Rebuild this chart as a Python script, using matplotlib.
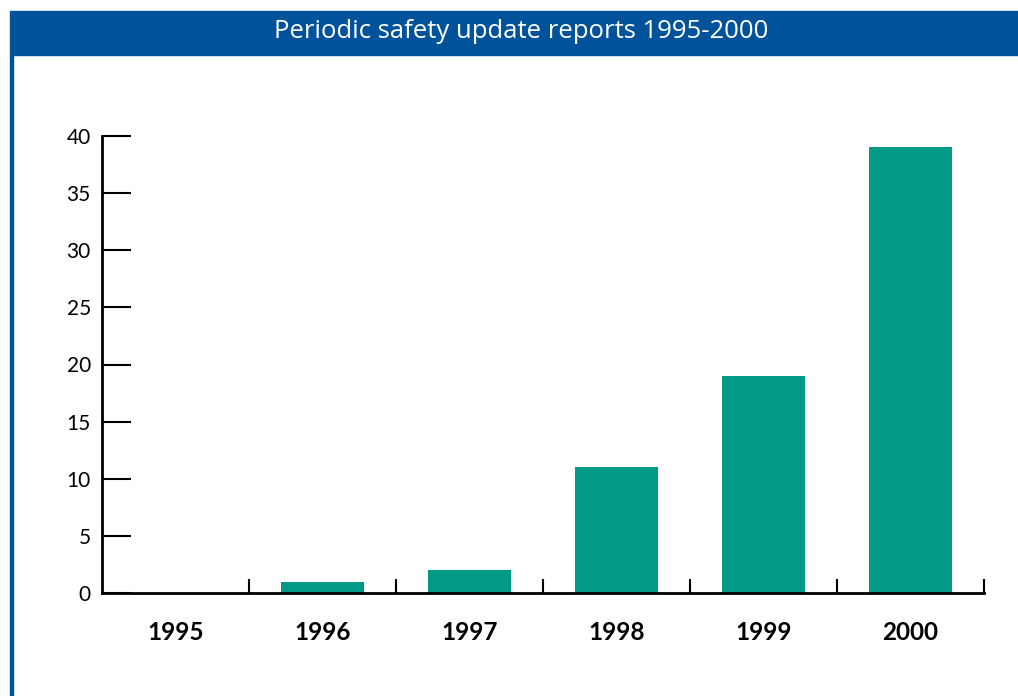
import matplotlib
matplotlib.use("Agg")
import matplotlib.pyplot as plt
from matplotlib.patches import Rectangle

# Data
years = ["1995", "1996", "1997", "1998", "1999", "2000"]
reports = [0, 1, 2, 11, 19, 39]
title = "Periodic safety update reports 1995-2000"

bar_color = "#009a87"
blue = "#00539b"

W, H = 1018, 696
fig = plt.figure(figsize=(W / 100, H / 100), dpi=100)

# header band and left border
fig.patches.append(Rectangle((10 / W, 1 - 55 / H), 1 - 10 / W, 44 / H,
                             transform=fig.transFigure, color=blue, zorder=0))
fig.patches.append(Rectangle((10 / W, 0), 3 / W, 1 - 55 / H,
                             transform=fig.transFigure, color=blue, zorder=0))
fig.text(521 / W, 1 - 32 / H, title, color="white", fontsize=18.5,
         family="Open Sans", ha="center", va="center")

ax = fig.add_axes([102 / W, 1 - 593 / H, 882 / W, 457 / H])
x = range(len(years))
ax.bar(x, reports, width=0.565, color=bar_color, zorder=2)

ax.set_xlim(-0.5, len(years) - 0.5)
ax.set_ylim(0, 40)
ax.set_yticks(range(0, 41, 5))
ax.set_xticks([i + 0.5 for i in range(len(years))])
ax.set_xticklabels([])
ax.set_xticks(list(x), minor=True)
ax.set_xticklabels(years, minor=True, fontsize=17.5, fontweight="bold", family="Lato")
ax.tick_params(axis="x", which="minor", length=0, pad=20)
ax.tick_params(axis="x", which="major", direction="in", length=10, width=1.5)
ax.tick_params(axis="y", direction="in", length=21, width=1.5, labelsize=15, pad=8)
for lab in ax.get_yticklabels():
    lab.set_family("Lato")

for s in ["top", "right"]:
    ax.spines[s].set_visible(False)
for s in ["left", "bottom"]:
    ax.spines[s].set_linewidth(2)

fig.savefig("out.png", dpi=100)
